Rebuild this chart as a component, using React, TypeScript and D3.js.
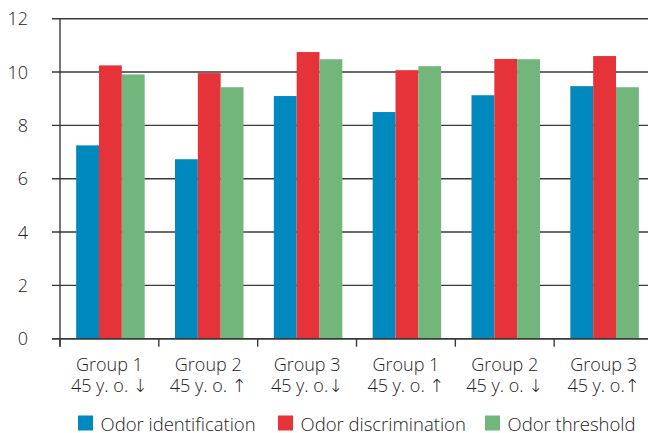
import * as d3 from 'd3';
import { useEffect } from 'react';

const WIDTH = 648;
const HEIGHT = 433;
const MARGIN = { top: 18.7, right: -5, bottom: 94.3, left: 60 };

const groupLine1 = ['Group 1', 'Group 2', 'Group 3', 'Group 1', 'Group 2', 'Group 3'];
const groupLine2 = ['45 y. o. ↓', '45 y. o. ↑', '45 y. o.↓', '45 y. o. ↑', '45 y. o. ↓', '45 y. o.↑'];
const seriesNames = ['Odor identification', 'Odor discrimination', 'Odor threshold'];
const seriesColors = ['#0089bf', '#e6333a', '#72b67b'];

const identification = [7.25, 6.73, 9.1, 8.5, 9.13, 9.47];
const discrimination = [10.25, 9.96, 10.75, 10.07, 10.49, 10.6];
const threshold = [9.91, 9.43, 10.48, 10.22, 10.48, 9.43];

const yTicks = [0, 2, 4, 6, 8, 10, 12];
const legendX = [78, 278, 485];

const FONT = '"Open Sans", "DejaVu Sans", sans-serif';
const TEXT = '#222';
const LINE = '#3a3a3a';

export default function App() {
  useEffect(() => {
    document.body.style.margin = '0';
  }, []);

  const series = [identification, discrimination, threshold];
  const innerW = WIDTH - MARGIN.left - MARGIN.right;
  const innerH = HEIGHT - MARGIN.top - MARGIN.bottom;
  const groups = groupLine1.map((_, i) => String(i));

  const x = d3.scaleBand().domain(groups).range([0, innerW]).paddingInner(0).paddingOuter(0);
  const xSub = d3
    .scaleBand()
    .domain(seriesNames)
    .range([2, x.bandwidth()])
    .paddingInner(0)
    .paddingOuter(0.62);
  const y = d3.scaleLinear().domain([0, 12]).range([innerH, 0]);

  return (
    <svg
      width={WIDTH}
      height={HEIGHT}
      style={{ position: 'absolute', left: 0, top: 0 }}
      fontFamily={FONT}
      fontWeight={350}
    >
      <g transform={`translate(${MARGIN.left},${MARGIN.top})`}>
        {/* grid */}
        {yTicks.map((t) => (
          <g key={t}>
            <line x1={-8} x2={innerW} y1={y(t)} y2={y(t)} stroke={LINE} strokeWidth={1.4} />
            <text x={-32} y={y(t)} dy="0.36em" textAnchor="end" fontSize={18} fill={TEXT}>
              {t}
            </text>
          </g>
        ))}
        {/* bars */}
        {groups.map((g, gi) => (
          <g key={g} transform={`translate(${x(g)},0)`}>
            {series.map((vals, si) => (
              <rect
                key={si}
                x={xSub(seriesNames[si])}
                y={y(vals[gi])}
                width={xSub.bandwidth()}
                height={y(0) - y(vals[gi])}
                fill={seriesColors[si]}
              />
            ))}
          </g>
        ))}
        {/* axes */}
        <line x1={0} x2={0} y1={y(12)} y2={innerH + 8} stroke={LINE} strokeWidth={1.4} />
        <line x1={-8} x2={innerW} y1={y(0)} y2={y(0)} stroke={LINE} strokeWidth={1.4} />
        {groups.map((g) => (
          <line key={g} x1={x(g)} x2={x(g)} y1={innerH} y2={innerH + 8} stroke={LINE} strokeWidth={1.4} />
        ))}
        {groups.map((g, i) => {
          const cx = (x(g) ?? 0) + x.bandwidth() / 2;
          return (
            <g key={g}>
              <text x={cx} y={innerH + 32} textAnchor="middle" fontSize={18} fill={TEXT}>
                {groupLine1[i]}
              </text>
              <text x={cx} y={innerH + 53.5} textAnchor="middle" fontSize={18} fill={TEXT}>
                {groupLine2[i]}
              </text>
            </g>
          );
        })}
      </g>
      {/* legend */}
      {seriesNames.map((name, i) => (
        <g key={name} transform={`translate(${legendX[i]},415.5)`}>
          <rect width={15} height={15} fill={seriesColors[i]} />
          <text x={22.5} y={15} fontSize={18.5} fill={TEXT}>
            {name}
          </text>
        </g>
      ))}
    </svg>
  );
}
